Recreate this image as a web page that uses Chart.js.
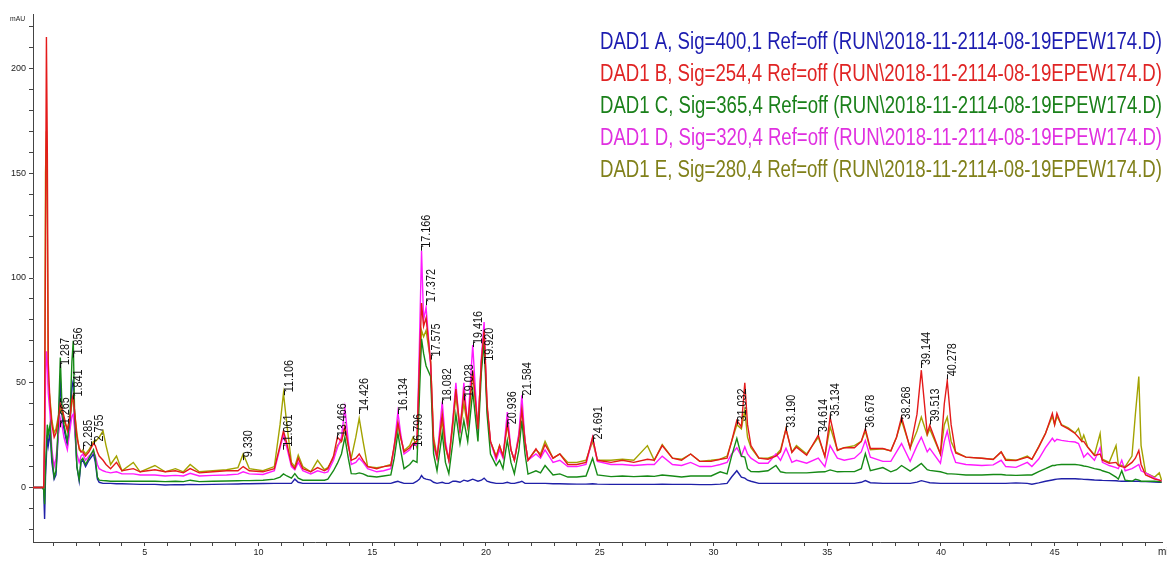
<!DOCTYPE html>
<html>
<head>
<meta charset="utf-8">
<script src="https://cdn.jsdelivr.net/npm/chart.js@4.4.1/dist/chart.umd.min.js"></script>
<style>
  html, body { margin: 0; background: #fff; }
  #wrap { width: 1167px; height: 561px; }
</style>
</head>
<body>
<div id="wrap"><canvas id="chrom" width="1167" height="561"></canvas></div>
<script>
// retention time (min)
const times = [0.00,0.50,0.56,0.60,0.64,0.68,0.72,0.76,0.84,0.92,
  1.02,1.10,1.20,1.29,1.36,1.45,1.60,1.72,1.80,1.86,
  1.92,2.02,2.12,2.20,2.28,2.40,2.55,2.75,2.83,2.92,
  3.00,3.17,3.30,3.50,3.76,4.00,4.50,4.80,5.45,5.90,
  6.35,6.70,7.00,7.40,8.00,8.60,9.10,9.33,9.60,10.20,
  10.70,10.95,11.10,11.25,11.45,11.60,11.75,11.95,12.30,12.60,
  12.90,13.05,13.30,13.47,13.65,13.80,13.95,14.08,14.28,14.43,
  14.60,14.80,15.20,15.50,15.82,15.97,16.13,16.25,16.40,16.65,
  16.80,16.97,17.08,17.17,17.26,17.37,17.57,17.70,17.85,18.08,
  18.22,18.37,18.55,18.68,18.86,19.03,19.20,19.42,19.65,19.80,
  19.92,20.05,20.20,20.45,20.60,20.75,20.94,21.10,21.25,21.45,
  21.58,21.72,21.85,22.20,22.40,22.60,22.95,23.25,23.60,24.00,
  24.40,24.69,24.90,25.50,26.00,26.50,27.10,27.40,27.75,28.20,
  28.60,29.00,29.40,29.90,30.30,30.60,30.80,31.03,31.23,31.38,
  31.50,31.65,32.00,32.40,32.75,32.95,33.19,33.45,33.65,34.10,
  34.61,34.90,35.13,35.45,35.75,36.20,36.50,36.68,36.90,37.45,
  37.80,38.05,38.27,38.65,38.95,39.14,39.40,39.51,39.98,40.15,
  40.28,40.45,40.65,41.10,41.80,42.30,42.65,42.85,43.30,43.80,
  44.00,44.30,44.60,44.90,45.00,45.10,45.30,45.60,45.90,46.05,
  46.20,46.28,46.45,46.75,47.00,47.10,47.40,47.70,47.80,47.95,
  48.10,48.40,48.55,48.70,48.80,49.00,49.40,49.60,49.70];

// mAU, one array per DAD signal
const sigA = [0,0,-1,-15,5,15,25,20,26,12,
  4,6,25,52,35,28,20,30,48,51,
  30,10,3,12,13,10,13,16,12,4,
  2.5,2,2,2,1.8,1.8,1.6,1.5,1.5,1.2,
  1.4,1.3,1.5,1.4,1.5,1.6,1.7,1.8,1.8,1.9,
  2,2,2,2,2,4,2.5,2,2,2,
  2,2,2,2,2,2,2,2,2,2,
  2,2,2,2,2,2.5,3,2.5,2,2,
  2,3,4,5.7,4.5,4,3.5,2.5,2,2.5,
  2,2,3,3,2.5,3.5,3,4,3,3.5,
  4.5,3,2.5,2,2,2,2.5,2,2,2.5,
  3,2,2,2,2,2,1.8,1.8,1.7,1.6,
  1.6,1.8,1.6,1.5,1.5,1.5,1.5,1.5,1.6,1.5,
  1.5,1.5,1.4,1.4,1.6,2,5,8,5,4.5,
  3.5,3,2,2,2,2,2,2,2,2,
  2,2,2,2,2,2,2.5,3.3,2.3,2,
  2,2,2,2,2.6,3.3,2.6,2.3,2,2,
  2,2,2,2,2,2,2,2,2.2,2,
  1.6,2.2,3,3.6,3.8,4,4.2,4.2,4.2,4.1,
  4,3.9,3.8,3.6,3.5,3.4,3.3,3.2,3.1,3,
  3,3,3,3,2.9,2.8,2.6,2.5,2.5];
const sigB = [0,0,0,25,120,215,160,60,40,30,
  24,26,32,40,38,34,27,34,42,44,
  36,24,19,17,17,15,17,21,20,17,
  15,13,11,9,12,8,9,7.5,8.5,7.5,
  8,7,9,7,7.5,8,8,10,8,7.5,
  9,20,27,21,11,9,14,9,7.5,9.5,
  8,9,15,24,22,29,20,13,14,16,
  13,10,9,10,10.5,20,31,24,17,19,
  21,22,60,88,77,81,60,22,14,35,
  20,13,32,47,28,45,30,56,28,60,
  75,40,22,14.5,20,15,31,18,13,24,
  37,22,13,18.5,15,20.5,14,16,11,11,
  12,24,13,12,13,12,13.5,13,20,14,
  13,16,12.5,12.5,13.5,14,22,32,29,50,
  30,20,14,13.5,15,17,28,16.7,19.3,15.4,
  25,14.7,33.5,17.7,19,19,22,28,18.6,18.6,
  17.5,24,33.6,18.6,35,56,25.8,29.7,16,40,
  51,30,16.5,14.5,14,13.4,17,13,12.9,14.5,
  13.5,19.3,25.8,35.4,30,35.4,29.7,28,25.8,24,
  22,22,19.3,15.3,16,13,11.6,12,10.5,10,
  9.6,12,14,17.7,11,6,4,3.5,3];
const sigC = [0,0,-1,-8,10,20,30,25,30,15,
  5,8,30,62,40,30,22,35,60,70,
  35,10,4,13,14,11,14,18,14,5,
  3.5,3.3,3.2,3,3,3,3,3,3,2.8,
  3,2.8,3.5,2.8,3,3.1,3.2,3.3,3.3,3.5,
  4,5,6.5,5.5,4.5,6.6,4.5,3.5,3.5,3.5,
  3.5,4,8,11.5,16,24,14,6.6,6.5,7,
  6.5,5.5,5,5.5,6,14,26,18,9,11,
  13,12,45,71,64,58,53,16,8,26,
  12,6.6,22,35,21,32,22,46,22,55,
  69,35,16,10.5,13,9,22.5,12,6.6,18,
  32,16,6.4,8,7,10.5,6,6.5,5,5,
  5.5,14,6,5.2,5.5,5.2,5.5,5.3,6,5.5,
  5,5.5,5.5,5.5,7.5,6.5,15,23.5,15,14.5,
  9,7.6,7.5,8,10.5,7.5,7,7,7,7,
  7.4,7.5,8.4,7.5,7.6,7.6,9,16.2,8,9.5,
  7.5,8.5,10.5,7.8,10,11.5,8.5,8.2,7.5,7,
  6.6,6.5,6.4,6,6,6.2,6.2,6,5.8,6,
  6,7.6,9,10.5,10.5,10.8,11,11,11,10.8,
  10.5,10.3,10,9,8.5,8,7,5,4,8,
  3.5,3,4,3.5,3,3,3,2.8,2.5];
const sigD = [0,0,0,20,50,65,60,45,35,18,
  10,14,25,33,30,24,18,28,34,35,
  28,16,12,15,16,13,15,17,15,11,
  9,8,7.5,7,7.5,6.5,6.5,6,6,5.5,
  5.8,5.5,6.8,5.5,5.8,6,6.4,7.5,6.5,6.2,
  8,19,25,19,10,8.5,12,8,6.5,8,
  7,7.5,13,19,24,38,22,11,12,14,
  12,9,7.5,8,9,20,36,26,16,18,
  21,20,70,113,80,86,58,20,14,41,
  22,13,33,50,26,50,29,68,26,62,
  79,38,22,13,18,14,36,18,13,26,
  44,22,13,16,14,18,12,13,10,10,
  11,24,12.5,11,11,10.5,11,11,15,11,
  10.5,12,10,10,11,12,16,19,15,19.5,
  16,14,11.6,11.6,16,13,18.7,12,13,11.6,
  14,10,20,14,13,14,17,22.5,14.5,12.5,
  12.5,17,21,12.5,20,24,17,18.7,11.6,22,
  27,18,12,11,10.5,10.8,13,10,9.6,12,
  10,13.6,19,23.5,22,23,22.5,22,21.7,21,
  17,14.5,16.5,13,19,12,10.5,9.5,9,13,
  8,9,10,11,8,7,4.5,3.5,3];
const sigE = [0,0,0,30,150,170,120,50,42,32,
  26,28,34,38,36,32,28,34,40,44,
  36,26,18,17,18,16,18,22,22,23,
  24,27,20,11,15,8,12,7.5,10.5,7.5,
  9,7.5,11,7.5,8,8.5,9.5,16,9,8,
  10,30,45,30,12,10,15.5,10,7.5,13,
  8.5,9.5,14,20,22,29,20,14,24,33,
  22,10,9.5,10,11,19,30,24,17.7,20,
  24,19,55,75,72,75,60,24,15,32,
  19,13,30,44,27,40,29,55,28,60,
  74,38,22,15,20,15,30,18,13,25,
  38,22,13,18,16,22,14,16,12,12,
  13,22,13,13,13.5,13,20,13,20.5,14,
  13.5,16,12.5,13,13.5,15,22,30,28,37,
  24,19,14,14,15.5,18,28,17,20,16,
  24,15,29,18,19,20,22,27,18,18.5,
  17.5,24,32,19,27,33.6,25,28,16,30,
  33.6,22,17,14.5,14,13.5,17,13.5,13,15,
  13.5,19.5,26,34,30,34,30,28.5,26,28.2,
  22.5,25,19.5,15.5,25.8,13.5,12,20,11,10.5,
  10,15,35,53,20,7,5,7,3.5];

const signalNames = [
  'DAD1 A, Sig=400,1 Ref=off (RUN\\2018-11-2114-08-19EPEW174.D)',
  'DAD1 B, Sig=254,4 Ref=off (RUN\\2018-11-2114-08-19EPEW174.D)',
  'DAD1 C, Sig=365,4 Ref=off (RUN\\2018-11-2114-08-19EPEW174.D)',
  'DAD1 D, Sig=320,4 Ref=off (RUN\\2018-11-2114-08-19EPEW174.D)',
  'DAD1 E, Sig=280,4 Ref=off (RUN\\2018-11-2114-08-19EPEW174.D)'
];
const lineColors = ['#2020a8', '#e41a1a', '#168a16', '#ff1aff', '#a3a300'];
const textColors = ['#1c1cb0', '#e02424', '#1a801a', '#e030e0', '#80801a'];
const drawOrder = [4, 0, 1, 2, 3];

// peak annotations: label text, and the mAU where the label starts
const peakLabels = ['1.265','1.287','1.841','1.856','2.285','2.755','9.330','11.061','11.106','13.466',
  '14.426','16.134','16.796','17.166','17.372','17.575','18.082','19.028','19.416','19.920',
  '20.936','21.584','24.691','31.032','33.190','34.614','35.134','36.678','38.268','39.144',
  '39.513','40.278'];
const peakTops = [29.7,58,43,63,19,21.5,14,19,45,24,
  36,36,19,114,88,62,40.7,42.6,68,60,
  29.7,43.5,22.5,31,28,26,33.5,28,32,58,
  31,52.6];

const SANS = '"Liberation Sans", Arial, sans-serif';
const signals = [sigA, sigB, sigC, sigD, sigE];

// draw text squeezed horizontally, like a narrow face
function narrowText(ctx, text, squeeze) {
  ctx.save();
  ctx.scale(squeeze, 1);
  ctx.fillText(text, 0, 0);
  ctx.restore();
}

const overlay = {
  id: 'overlay',
  afterDatasetsDraw(chart) {
    const { ctx, scales: { x, y } } = chart;
    ctx.save();

    // peak retention times
    ctx.fillStyle = '#111';
    ctx.strokeStyle = '#111';
    ctx.lineWidth = 1;
    ctx.font = '12px ' + SANS;
    ctx.textAlign = 'left';
    ctx.textBaseline = 'middle';
    peakLabels.forEach((lab, i) => {
      const px = Math.round(x.getPixelForValue(parseFloat(lab)));
      const py = y.getPixelForValue(peakTops[i]);
      ctx.beginPath();
      ctx.moveTo(px + 0.5, py + 2);
      ctx.lineTo(px + 0.5, py - 3);
      ctx.stroke();
      ctx.save();
      ctx.translate(px + 6, py - 1);
      ctx.rotate(-Math.PI / 2);
      narrowText(ctx, lab, 0.9);
      ctx.restore();
    });

    // signal legend, right aligned, squeezed to the narrow width of the original
    ctx.font = '23px ' + SANS;
    ctx.textAlign = 'right';
    signalNames.forEach((name, i) => {
      const w = ctx.measureText(name).width;
      ctx.fillStyle = textColors[i];
      ctx.save();
      ctx.translate(1162, 43 + i * 32);
      narrowText(ctx, name, 562 / w);
      ctx.restore();
    });

    // axis units
    ctx.fillStyle = '#222';
    ctx.font = '8px ' + SANS;
    ctx.textAlign = 'left';
    ctx.save();
    ctx.translate(10, 19);
    narrowText(ctx, 'mAU', 0.85);
    ctx.restore();
    ctx.font = '10px ' + SANS;
    ctx.fillText('min', 1158, 552);
    ctx.restore();
  }
};

new Chart(document.getElementById('chrom'), {
  type: 'line',
  data: {
    datasets: signals.map((s, i) => ({
      label: signalNames[i],
      data: times.map((t, k) => ({ x: t, y: s[k] })),
      borderColor: lineColors[i],
      borderWidth: 1.4,
      pointRadius: 0,
      tension: 0,
      fill: false,
      order: drawOrder[i]
    }))
  },
  options: {
    responsive: false,
    animation: false,
    layout: { padding: { top: 14, right: 5, left: 0, bottom: 0 } },
    plugins: { legend: { display: false }, tooltip: { enabled: false } },
    scales: {
      x: {
        type: 'linear',
        min: 0.09,
        max: 49.72,
        afterBuildTicks: scale => {
          const ticks = [];
          for (let v = 1; v <= 49; v++) ticks.push({ value: v });
          scale.ticks = ticks;
        },
        afterFit: scale => { scale.height = 19; },
        grid: { drawOnChartArea: false, tickLength: 4, color: '#444' },
        border: { color: '#444' },
        ticks: {
          autoSkip: false,
          maxRotation: 0,
          padding: 1,
          color: '#222',
          font: { family: SANS, size: 9 },
          callback: v => (v % 5 === 0 ? v : '')
        }
      },
      y: {
        min: -26,
        max: 226,
        afterBuildTicks: scale => {
          const ticks = [];
          for (let v = -20; v <= 220; v += 10) ticks.push({ value: v });
          scale.ticks = ticks;
        },
        afterFit: scale => { scale.width = 33; },
        grid: { drawOnChartArea: false, tickLength: 4, color: '#444' },
        border: { color: '#444' },
        ticks: {
          autoSkip: false,
          padding: 3,
          color: '#222',
          font: { family: SANS, size: 9 },
          callback: v => (v % 50 === 0 ? v : '')
        }
      }
    }
  },
  plugins: [overlay]
});
</script>
</body>
</html>
